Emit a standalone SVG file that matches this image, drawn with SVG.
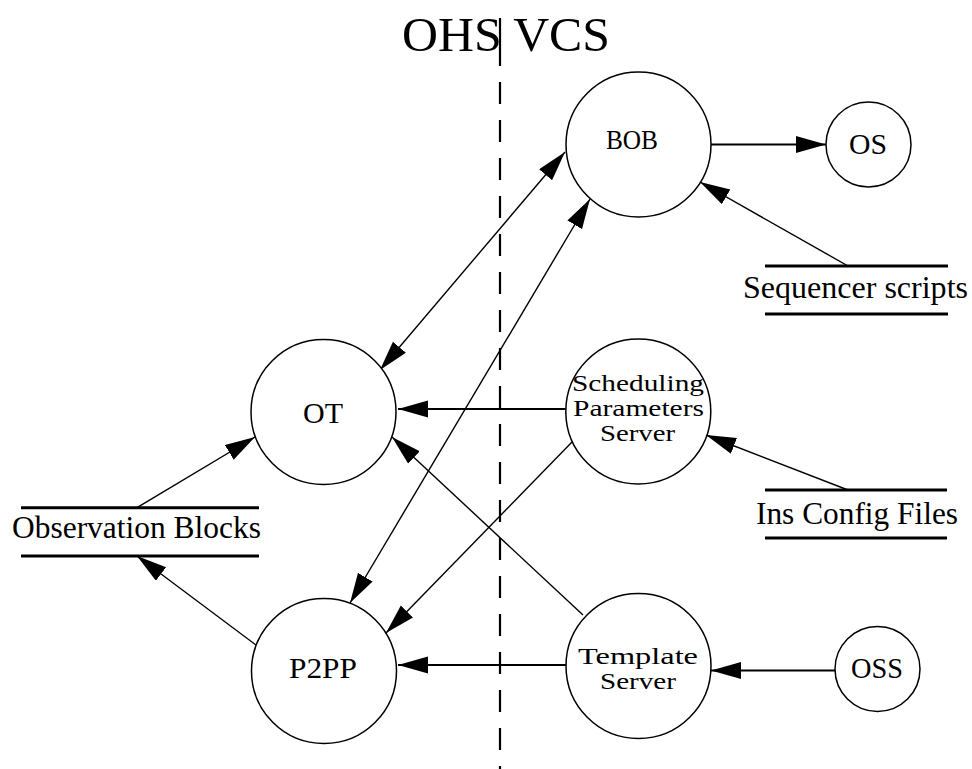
<svg xmlns="http://www.w3.org/2000/svg" width="972" height="769" viewBox="0 0 972 769">
<style>
text{font-family:"Liberation Serif","Times New Roman",serif;fill:#000}
.node{fill:#fff;stroke:#000;stroke-width:1.5}
.lbl{font-size:29px}
.ml{font-size:22.5px}
.store{stroke:#000;stroke-width:3}
.edge{stroke:#000;stroke-width:1.4;fill:none;marker-end:url(#ah)}
.h{stroke-width:2.2}
.both{marker-start:url(#ah)}
.div{stroke:#000;stroke-width:2.2}
</style>
<defs>
<marker id="ah" markerUnits="userSpaceOnUse" markerWidth="31" markerHeight="18" refX="30" refY="8.5" orient="auto-start-reverse" viewBox="0 0 31 18">
<path d="M0,0 L30,8.5 L0,17 z" fill="#000"/>
</marker>
</defs>
<rect width="972" height="769" fill="#fff"/>
<g id="title">
<text x="402" y="51" font-size="48" textLength="208" lengthAdjust="spacingAndGlyphs">OHS VCS</text>
</g>
<g id="divider">
<line class="div" x1="500" y1="18" x2="500" y2="66"/>
<line class="div" x1="500" y1="82" x2="500" y2="769" stroke-dasharray="22 16"/>
</g>
<g id="connectors">
<line class="edge h" x1="711" y1="144.5" x2="826" y2="144.5"/>
<line class="edge both" x1="380" y1="370" x2="565" y2="152"/>
<line class="edge both" x1="350" y1="603" x2="590" y2="199"/>
<line class="edge" x1="848" y1="266" x2="700" y2="182"/>
<line class="edge h" x1="566" y1="409" x2="398" y2="409"/>
<line class="edge" x1="572" y1="442" x2="386" y2="633"/>
<line class="edge" x1="848" y1="490" x2="706" y2="435"/>
<line class="edge" x1="583" y1="615" x2="392" y2="437"/>
<line class="edge h" x1="566" y1="665" x2="398" y2="665"/>
<line class="edge h" x1="835" y1="670.5" x2="711" y2="670.5"/>
<line class="edge" x1="137" y1="507.7" x2="255" y2="437"/>
<line class="edge" x1="256" y1="645" x2="137" y2="556"/>
</g>
<g id="BOB">
<circle class="node" cx="638.5" cy="144.5" r="72.5"/>
<text class="lbl" x="606" y="149.3" style="font-size:27px" textLength="52" lengthAdjust="spacingAndGlyphs">BOB</text>
</g>
<g id="OS">
<circle class="node" cx="868.5" cy="144.5" r="42.5"/>
<text class="lbl" x="849" y="154" textLength="38" lengthAdjust="spacingAndGlyphs">OS</text>
</g>
<g id="OT">
<circle class="node" cx="323.5" cy="412" r="72.5"/>
<text class="lbl" x="303" y="423" textLength="40" lengthAdjust="spacingAndGlyphs">OT</text>
</g>
<g id="SchedulingParametersServer">
<circle class="node" cx="638.3" cy="411.5" r="72.5"/>
<text class="ml" x="572" y="391" textLength="132" lengthAdjust="spacingAndGlyphs">Scheduling</text>
<text class="ml" x="573" y="416" textLength="131" lengthAdjust="spacingAndGlyphs">Parameters</text>
<text class="ml" x="600" y="441" textLength="75" lengthAdjust="spacingAndGlyphs">Server</text>
</g>
<g id="P2PP">
<circle class="node" cx="324" cy="671" r="72.5"/>
<text class="lbl" x="289" y="678" textLength="68" lengthAdjust="spacingAndGlyphs">P2PP</text>
</g>
<g id="TemplateServer">
<circle class="node" cx="638.5" cy="666" r="72.5"/>
<text class="ml" x="578" y="664" textLength="120" lengthAdjust="spacingAndGlyphs">Template</text>
<text class="ml" x="600" y="689" textLength="76" lengthAdjust="spacingAndGlyphs">Server</text>
</g>
<g id="OSS">
<circle class="node" cx="877.5" cy="669" r="42.5"/>
<text class="lbl" x="851" y="678" textLength="52" lengthAdjust="spacingAndGlyphs">OSS</text>
</g>
<g id="SequencerScripts">
<line class="store" x1="765" y1="266" x2="948" y2="266"/>
<line class="store" x1="765" y1="314" x2="948" y2="314"/>
<text x="743" y="298" font-size="31" textLength="225" lengthAdjust="spacingAndGlyphs">Sequencer scripts</text>
</g>
<g id="InsConfigFiles">
<line class="store" x1="765" y1="490" x2="947" y2="490"/>
<line class="store" x1="765" y1="538" x2="947" y2="538"/>
<text x="756" y="524" font-size="31" textLength="202" lengthAdjust="spacingAndGlyphs">Ins Config Files</text>
</g>
<g id="ObservationBlocks">
<line class="store" x1="21" y1="507.7" x2="259" y2="507.7"/>
<line class="store" x1="21" y1="556" x2="259" y2="556"/>
<text x="12" y="538" font-size="31" textLength="249" lengthAdjust="spacingAndGlyphs">Observation Blocks</text>
</g>
</svg>
